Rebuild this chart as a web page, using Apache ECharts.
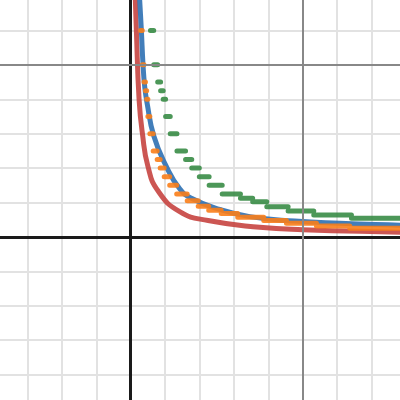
<!DOCTYPE html>
<html>
<head>
<meta charset="utf-8">
<style>
html,body{margin:0;padding:0;background:#fff;width:400px;height:400px;overflow:hidden;position:relative}
#c{position:absolute;left:-6.6px;top:-3.8px;width:412.8px;height:412.8px}
</style>
<script src="https://cdn.jsdelivr.net/npm/echarts/dist/echarts.min.js"></script>
</head>
<body>
<div id="c"></div>
<script>
// Smooth curves
const redX  = [0.026, 0.0273, 0.033, 0.049, 0.068, 0.1006, 0.1587, 0.285, 0.45, 0.75, 1.0, 1.564, 1.6];
const redY  = [1.42, 1.378, 1.203, 0.797, 0.603, 0.409, 0.268, 0.147, 0.095, 0.0564, 0.042, 0.027, 0.026];
const blueX = [0.050, 0.0523, 0.062, 0.0715, 0.0814, 0.095, 0.135, 0.2076, 0.285, 0.353, 0.517, 0.692, 0.953, 1.215, 1.564, 1.6];
const blueY = [1.42, 1.378, 1.203, 1.006, 0.875, 0.78, 0.585, 0.409, 0.28, 0.225, 0.16, 0.118, 0.092, 0.079, 0.068, 0.067];

// Step curves: levels and the x where each level starts/ends
const orangeLevels = [1.2, 1.0, 0.9, 0.85, 0.8, 0.7, 0.6, 0.5, 0.45, 0.4, 0.35, 0.3, 0.25, 0.21, 0.178, 0.155, 0.136, 0.115, 0.095, 0.08, 0.064, 0.05];
const orangeBreaks = [0.058, 0.0675, 0.0775, 0.086, 0.093, 0.100, 0.1116, 0.1308, 0.154, 0.1715, 0.1948, 0.2267, 0.2674, 0.3285, 0.3924, 0.4535, 0.5262, 0.6221, 0.7733, 0.9052, 1.0797, 1.2733, 1.5756];
const greenLevels  = [1.2, 1.0, 0.9, 0.85, 0.8, 0.7, 0.6, 0.5, 0.45, 0.4, 0.35, 0.3, 0.25, 0.225, 0.205, 0.176, 0.151, 0.128, 0.109];
const greenBreaks  = [0.115, 0.134, 0.157, 0.174, 0.189, 0.203, 0.230, 0.269, 0.319, 0.355, 0.399, 0.456, 0.532, 0.638, 0.709, 0.791, 0.915, 1.064, 1.283, 1.576];

function pairs(xs, ys) { return xs.map((x, i) => [x, ys[i]]); }
function steps(levels, breaks) {
  const d = [];
  levels.forEach((L, i) => {
    d.push([breaks[i], L], [breaks[i + 1], L]);
    if (i < levels.length - 1) d.push(['-', '-']);
  });
  return d;
}

const chart = echarts.init(document.getElementById('c'), null, {renderer: 'canvas'});
const minor = {show: true, lineStyle: {color: '#e2e2e2', width: 2}};
const axisBlack = {show: true, onZero: true, lineStyle: {color: '#1a1a1a', width: 3}};
function curve(name, data, color, extra) {
  return Object.assign({
    name, type: 'line', data, showSymbol: false, silent: true, connectNulls: false,
    lineStyle: {color, width: 5, opacity: 0.9, cap: 'round', join: 'round'},
    itemStyle: {color}, emphasis: {disabled: true}, z: 3
  }, extra || {});
}
chart.setOption({
  animation: false,
  backgroundColor: '#fff',
  grid: {left: 0, right: 0, top: 0, bottom: 0, containLabel: false},
  xAxis: {type: 'value', min: -0.8, max: 1.6, interval: 0.2,
    axisLine: axisBlack, axisTick: {show: false}, axisLabel: {show: false}, splitLine: minor},
  yAxis: {type: 'value', min: -1.0, max: 1.4, interval: 0.2,
    axisLine: axisBlack, axisTick: {show: false}, axisLabel: {show: false}, splitLine: minor},
  series: [
    {type: 'line', data: [], silent: true, z: 1,
      markLine: {silent: true, symbol: ['none', 'none'], label: {show: false},
        lineStyle: {color: '#888', width: 2, type: 'solid', opacity: 1},
        emphasis: {disabled: true},
        data: [{xAxis: 1}, {yAxis: 1}]}},
    curve('red', pairs(redX, redY), '#c74440', {smooth: 0.5}),
    curve('blue', pairs(blueX, blueY), '#2d70b3', {smooth: 0.5}),
    curve('green', steps(greenLevels, greenBreaks), '#388c46'),
    curve('orange', steps(orangeLevels, orangeBreaks), '#fa7e19')
  ]
});
</script>
</body>
</html>
